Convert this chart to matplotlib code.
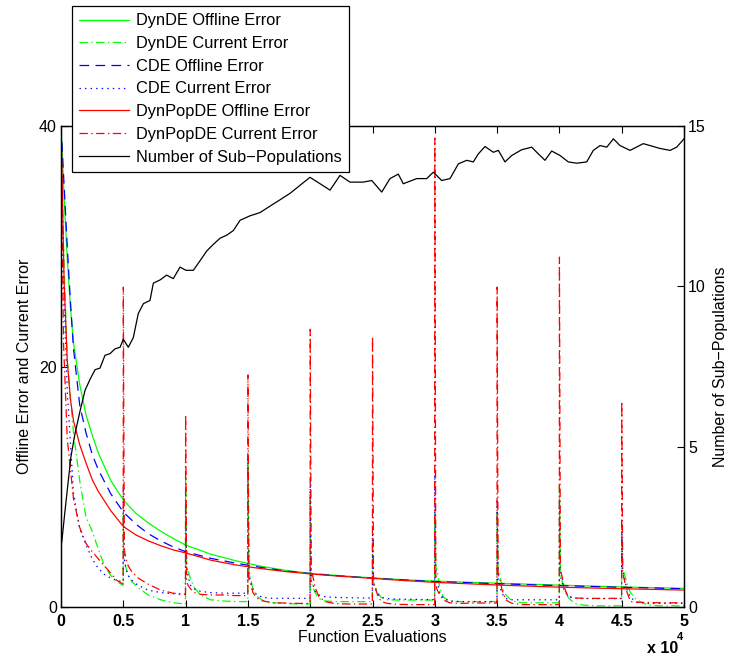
import matplotlib
matplotlib.use("Agg")
import matplotlib.pyplot as plt

plt.rcParams['font.family'] = ['Liberation Sans', 'DejaVu Sans']
plt.rcParams['lines.scale_dashes'] = False

# ---------------- data (x in units of 10^4 function evaluations) ----------------
offline_x = [0, 0.025, 0.05, 0.075, 0.1, 0.15, 0.2, 0.25, 0.3, 0.4, 0.5, 0.6, 0.7,
             0.8, 0.9, 1.0, 1.2, 1.4, 1.6, 1.8, 2.0, 2.25, 2.5, 2.75, 3.0, 3.5,
             4.0, 4.5, 5.0]
dynde_offline = [40, 34, 29, 25, 22, 18.5, 16, 14.3, 12.8, 10.5, 8.9, 7.8, 7.0,
                 6.3, 5.7, 5.15, 4.4, 3.85, 3.4, 3.05, 2.8, 2.6, 2.42, 2.27, 2.15,
                 1.98, 1.82, 1.67, 1.55]
cde_offline = [40, 35, 30, 25.5, 21.5, 16.8, 14.5, 12.7, 11.4, 9.4, 7.9, 6.9, 6.1,
               5.5, 5.0, 4.6, 4.05, 3.65, 3.3, 3.0, 2.78, 2.57, 2.4, 2.25, 2.12,
               1.94, 1.78, 1.64, 1.52]
dynpopde_offline = [40, 27, 20.5, 17.3, 15.5, 13.5, 12.0, 10.6, 9.6, 8.0, 6.7, 6.0,
                    5.5, 5.1, 4.75, 4.5, 3.9, 3.5, 3.2, 2.95, 2.75, 2.55, 2.38, 2.2,
                    2.05, 1.83, 1.65, 1.52, 1.41]

# current error: first period samples, then samples after each environment change
first_period_x = [0, 0.02, 0.05, 0.1, 0.15, 0.2, 0.25, 0.3, 0.35, 0.4, 0.45, 0.499]
change_points = [0.5, 1.0, 1.5, 2.0, 2.5, 3.0, 3.5, 4.0, 4.5]
after_change_offsets = [0, 0.008, 0.02, 0.04, 0.07, 0.12, 0.2, 0.3, 0.4, 0.499]

dynde_current = [
    40, 30, 20.5, 14.5, 10.5, 7.5, 6.3, 4.8, 3.4, 2.6, 2.1, 1.8,
    8, 4.0, 3.3, 2.6, 2.1, 1.6, 1.0, 0.6, 0.35, 0.25,
    10.8, 3.3, 3.0, 2.3, 1.6, 1.0, 0.6, 0.5, 0.45, 0.45,
    12, 2.8, 2.4, 1.5, 0.9, 0.55, 0.35, 0.3, 0.25, 0.25,
    9, 2.0, 1.7, 1.2, 0.7, 0.5, 0.45, 0.45, 0.45, 0.45,
    5, 2.0, 1.8, 1.2, 0.8, 0.6, 0.58, 0.58, 0.58, 0.58,
    8, 3.3, 3.0, 1.5, 0.8, 0.5, 0.45, 0.45, 0.45, 0.45,
    8, 3.0, 2.8, 1.6, 1.0, 0.5, 0.35, 0.35, 0.35, 0.35,
    10, 2.5, 2.2, 1.4, 0.8, 0.3, 0.15, 0.1, 0.1, 0.1,
    6, 3.2, 2.8, 2.0, 1.2, 0.58, 0.2, 0.1, 0.1, 0.1,
]
cde_current = [
    40, 27, 18, 9.5, 6.5, 5.2, 4.0, 3.2, 2.7, 2.4, 2.2, 2.1,
    10, 4.0, 3.2, 2.6, 2.2, 1.8, 1.4, 1.2, 1.1, 1.05,
    9, 3.5, 2.5, 1.8, 1.5, 1.3, 1.2, 1.15, 1.15, 1.15,
    12, 2.6, 2.2, 1.5, 1.0, 0.8, 0.72, 0.72, 0.72, 0.72,
    10, 2.2, 1.9, 1.3, 1.0, 0.85, 0.8, 0.78, 0.75, 0.75,
    6, 1.9, 1.6, 1.1, 0.8, 0.7, 0.65, 0.65, 0.62, 0.62,
    11, 2.4, 2.0, 1.2, 0.7, 0.5, 0.45, 0.45, 0.45, 0.45,
    9, 2.2, 1.8, 1.1, 0.7, 0.6, 0.6, 0.6, 0.6, 0.6,
    9, 2.6, 2.1, 1.3, 0.9, 0.75, 0.7, 0.7, 0.7, 0.7,
    7, 3.0, 2.5, 1.5, 0.8, 0.4, 0.3, 0.3, 0.3, 0.3,
]
dynpopde_current = [
    40, 22, 14, 9, 6.6, 5.3, 4.6, 4.0, 3.4, 2.8, 2.2, 1.9,
    26.6, 4.8, 4.0, 3.4, 2.9, 2.4, 1.9, 1.4, 1.15, 1.05,
    16.0, 2.2, 1.8, 1.5, 1.2, 1.05, 1.0, 1.0, 0.95, 0.95,
    19.3, 2.3, 2.0, 1.2, 0.75, 0.5, 0.35, 0.33, 0.3, 0.3,
    23.1, 2.9, 2.6, 1.6, 0.86, 0.45, 0.28, 0.25, 0.25, 0.25,
    22.5, 2.0, 1.7, 1.0, 0.45, 0.3, 0.22, 0.2, 0.2, 0.2,
    39.0, 1.8, 1.4, 1.0, 0.58, 0.35, 0.3, 0.33, 0.33, 0.33,
    26.6, 2.7, 2.4, 1.4, 0.58, 0.3, 0.2, 0.2, 0.2, 0.2,
    29.1, 3.1, 2.6, 1.6, 0.85, 0.75, 0.72, 0.72, 0.72, 0.72,
    17.1, 2.8, 2.3, 1.3, 0.45, 0.4, 0.38, 0.35, 0.35, 0.35,
]

subpop_x = [0, 0.008, 0.032, 0.059, 0.080, 0.112, 0.152, 0.193, 0.233, 0.273, 0.313,
            0.353, 0.393, 0.433, 0.474, 0.5, 0.540, 0.580, 0.620, 0.661, 0.714,
            0.741, 0.795, 0.848, 0.901, 0.955, 1.003, 1.062, 1.116, 1.169, 1.220,
            1.276, 1.332, 1.383, 1.437, 1.517, 1.597, 1.677, 1.758, 1.838, 1.918,
            1.998, 2.079, 2.159, 2.239, 2.319, 2.424, 2.494, 2.574, 2.640, 2.707,
            2.747, 2.855, 2.935, 2.988, 3.055, 3.122, 3.189, 3.256, 3.309, 3.349,
            3.403, 3.470, 3.510, 3.563, 3.617, 3.697, 3.778, 3.818, 3.884, 3.938,
            4.005, 4.071, 4.139, 4.219, 4.272, 4.326, 4.380, 4.433, 4.486, 4.567,
            4.673, 4.754, 4.807, 4.888, 4.941, 5.0]
subpop_count = [1.9, 2.1, 3.0, 3.96, 4.7, 5.4, 6.1, 6.76, 7.1, 7.4, 7.45,
                7.85, 7.9, 8.05, 8.1, 8.35, 8.1, 8.4, 9.15, 9.46, 9.56,
                10.1, 10.2, 10.35, 10.24, 10.6, 10.5, 10.5, 10.8, 11.1, 11.3,
                11.5, 11.6, 11.74, 12.06, 12.2, 12.3, 12.5, 12.7, 12.9, 13.15,
                13.4, 13.2, 13.0, 13.46, 13.25, 13.25, 13.3, 12.94, 13.36, 13.5,
                13.2, 13.36, 13.36, 13.56, 13.3, 13.36, 13.82, 13.93, 13.88, 14.13,
                14.36, 14.18, 14.24, 13.88, 14.08, 14.26, 14.34, 14.18, 13.93, 14.22,
                14.08, 13.88, 13.84, 13.88, 14.24, 14.39, 14.34, 14.6, 14.39, 14.24,
                14.45, 14.36, 14.3, 14.24, 14.34, 14.6]

x_tick_values = [0, 0.5, 1, 1.5, 2, 2.5, 3, 3.5, 4, 4.5, 5]
x_tick_labels = ['0', '0.5', '1', '1.5', '2', '2.5', '3', '3.5', '4', '4.5', '5']
left_ticks = [0, 20, 40]
right_ticks = [0, 5, 10, 15]

labels = ['DynDE Offline Error', 'DynDE Current Error', 'CDE Offline Error',
          'CDE Current Error', 'DynPopDE Offline Error', 'DynPopDE Current Error',
          'Number of Sub\u2212Populations']

# build the time grid of current-error samples
current_x = list(first_period_x)
for t0 in change_points:
    current_x += [t0 + d for d in after_change_offsets]

# ---------------- figure ----------------
fig = plt.figure(figsize=(7.29, 6.58), dpi=100)
ax = fig.add_axes([0.0837, 0.0775, 0.8546, 0.7310])
ax2 = ax.twinx()

LW = 0.9
DASH = (0, (7, 4.5))
DASHDOT = (0, (6, 2.5, 1, 2.5))
DOT = (0, (1, 3))
GREEN, BLUE, RED = (0, 1, 0), (0, 0, 1), (1, 0, 0)

h1, = ax.plot(offline_x, dynde_offline, color=GREEN, lw=LW, ls='-')
h2, = ax.plot(current_x, dynde_current, color=GREEN, lw=LW, ls=DASHDOT)
h3, = ax.plot(offline_x, cde_offline, color=BLUE, lw=LW, ls=DASH)
h4, = ax.plot(current_x, cde_current, color=BLUE, lw=LW, ls=DOT)
h5, = ax.plot(offline_x, dynpopde_offline, color=RED, lw=LW, ls='-')
h6, = ax.plot(current_x, dynpopde_current, color=RED, lw=LW, ls=DASHDOT)
h7, = ax2.plot(subpop_x, subpop_count, color='black', lw=LW, ls='-')

ax.set_xlim(0, 5)
ax.set_ylim(0, 40)
ax2.set_ylim(0, 15)
ax.set_xticks(x_tick_values)
ax.set_xticklabels(x_tick_labels, fontweight='bold', fontsize=11.5)
ax.set_yticks(left_ticks)
ax.set_yticklabels([str(v) for v in left_ticks], fontsize=11.5)
ax2.set_yticks(right_ticks)
ax2.set_yticklabels([str(v) for v in right_ticks], fontsize=11.5)

ax.tick_params(axis='x', direction='in', top=True, bottom=True, length=5, width=0.8, pad=5)
ax.tick_params(axis='y', direction='in', left=True, right=False, length=5, width=0.8, pad=3)
ax2.tick_params(axis='y', direction='in', right=True, length=5, width=0.8, pad=3)
for a in (ax, ax2):
    for s in a.spines.values():
        s.set_linewidth(0.9)

ax.set_xlabel('Function Evaluations', fontsize=11.5, labelpad=1)
ax.set_ylabel('Offline Error and Current Error', fontsize=11.5, labelpad=5)
ax2.set_ylabel('Number of Sub\u2212Populations', fontsize=11.5, labelpad=5)

fig.text(0.887, 0.0137, 'x 10', fontsize=11.5, fontweight='bold', ha='left', va='center')
fig.text(0.928, 0.032, '4', fontsize=8, fontweight='bold', ha='left', va='center')

handles = [h1, h2, h3, h4, h5, h6, h7]
leg = ax2.legend(handles, labels, loc='upper left',
                 bbox_to_anchor=(72 / 729, 1 - 6 / 658), bbox_transform=fig.transFigure,
                 fontsize=11.8, frameon=True, fancybox=False, framealpha=1,
                 edgecolor='black', handlelength=3.0, handletextpad=0.45,
                 labelspacing=0.47, borderpad=0.45, borderaxespad=0)
leg.get_frame().set_linewidth(0.9)
leg.set_zorder(10)

fig.savefig('out.png', dpi=100)
